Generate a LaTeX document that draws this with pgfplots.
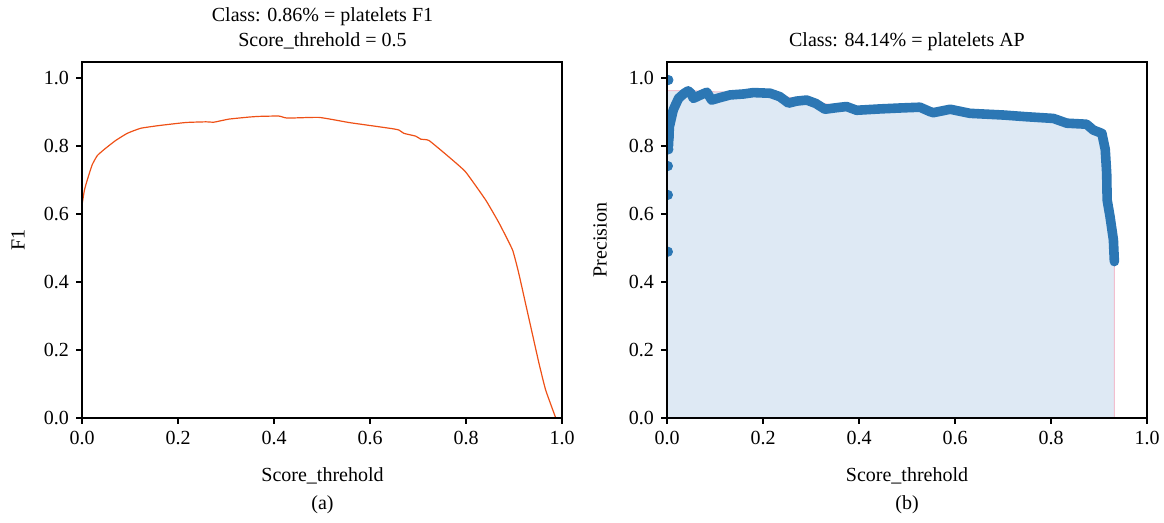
\documentclass[border=0pt]{standalone}
\usepackage{fontspec}
\setmainfont{Liberation Serif}
\usepackage{pgfplots}
\pgfplotsset{compat=1.18}

\definecolor{f1red}{HTML}{EE5016}
\definecolor{apblue}{HTML}{2C77B4}
\definecolor{apfill}{HTML}{DEE9F4}
\definecolor{appink}{HTML}{F2BFCF}

\pgfplotsset{
  prbase/.style={
    scale only axis, width=240pt, height=178pt,
    xmin=0, xmax=1, ymin=0, ymax=1.047,
    xtick={0,0.2,0.4,0.6,0.8,1}, ytick={0,0.2,0.4,0.6,0.8,1},
    tick align=outside, xtick pos=bottom, ytick pos=left,
    major tick length=3pt,
    tick style={black, line width=0.6pt},
    axis line style={line width=0.7pt},
    ticklabel style={font=\fontsize{10}{12}\selectfont},
    /pgf/number format/assume math mode=true,
    /pgf/number format/fixed, /pgf/number format/fixed zerofill,
    /pgf/number format/precision=1,
    axis on top, clip marker paths=true,
  }
}

\begin{document}
\begin{tikzpicture}
\useasboundingbox (0,0) rectangle (582pt,261.5pt);
\fontsize{10}{12}\selectfont

% (a) F1 curve
\begin{axis}[prbase, at={(41pt,52.5pt)}, anchor=south west]
  \addplot[f1red, line width=0.6pt, smooth, tension=0.25] coordinates {
    (0,0.626)(0.005,0.67)(0.011,0.70)(0.021,0.744)(0.032,0.772)(0.049,0.793)
    (0.070,0.816)(0.094,0.837)(0.122,0.852)(0.160,0.860)(0.216,0.869)(0.258,0.871)
    (0.275,0.870)(0.306,0.879)(0.348,0.885)(0.369,0.887)(0.410,0.888)(0.428,0.882)
    (0.494,0.884)(0.556,0.869)(0.591,0.862)(0.646,0.851)(0.660,0.847)(0.671,0.837)
    (0.695,0.829)(0.706,0.820)(0.723,0.816)(0.765,0.767)(0.799,0.724)(0.841,0.641)
    (0.869,0.573)(0.897,0.494)(0.910,0.425)(0.924,0.337)(0.938,0.249)(0.952,0.161)
    (0.966,0.082)(0.987,0.0)
  };
\end{axis}

% (b) precision curve
\begin{axis}[prbase, at={(333.5pt,52.5pt)}, anchor=south west]
  \addplot[draw=appink, line width=0.5pt, fill=apfill] coordinates {
    (0,0)(0,0.963)(0.045,0.963)(0.085,0.960)(0.185,0.956)(0.215,0.952)(0.29,0.935)
    (0.36,0.916)(0.53,0.914)(0.59,0.906)(0.70,0.891)(0.75,0.886)(0.805,0.881)
    (0.87,0.865)(0.89,0.848)(0.906,0.837)(0.913,0.79)(0.917,0.64)(0.923,0.59)
    (0.93,0.524)(0.932,0.46)(0.932,0)
  } -- cycle;
  \addplot[apblue, line width=4.8pt, line join=round, line cap=round] coordinates {
    (0.003,0.80)(0.005,0.857)(0.013,0.906)(0.024,0.940)(0.036,0.955)(0.044,0.962)
    (0.050,0.955)(0.055,0.940)(0.070,0.950)(0.083,0.958)(0.093,0.935)(0.110,0.942)
    (0.131,0.950)(0.160,0.953)(0.180,0.957)(0.215,0.955)(0.235,0.945)(0.253,0.926)
    (0.270,0.932)(0.291,0.935)(0.310,0.925)(0.329,0.908)(0.350,0.912)(0.374,0.916)
    (0.395,0.905)(0.444,0.909)(0.490,0.912)(0.527,0.914)(0.548,0.901)(0.555,0.898)
    (0.590,0.908)(0.631,0.896)(0.701,0.891)(0.749,0.886)(0.805,0.881)(0.833,0.867)
    (0.874,0.864)(0.888,0.847)(0.906,0.837)(0.913,0.79)(0.916,0.72)(0.917,0.641)
    (0.923,0.592)(0.930,0.524)(0.932,0.46)
  };
  \addplot[only marks, mark=*, mark size=2.3pt, apblue] coordinates {
    (0.003,0.994)(0.004,0.826)(0.003,0.790)(0.002,0.741)(0.002,0.656)(0.002,0.489)
  };
\end{axis}

% titles and labels
\node[anchor=base] at (161.25pt,250.75pt) {Class: 0.86\% = platelets F1};
\node[anchor=base] at (161.25pt,238.25pt) {Score\_threhold = 0.5};
\node[anchor=base] at (453.5pt,238.25pt) {Class: 84.14\% = platelets AP};
\node[anchor=base] at (161.25pt,20.5pt) {Score\_threhold};
\node[anchor=base] at (453.5pt,20.5pt) {Score\_threhold};
\node[anchor=base] at (161.25pt,6.5pt) {(a)};
\node[anchor=base] at (453.5pt,6.5pt) {(b)};
\node[rotate=90] at (9pt,141.5pt) {F1};
\node[rotate=90] at (300pt,141.5pt) {Precision};
\end{tikzpicture}
\end{document}
